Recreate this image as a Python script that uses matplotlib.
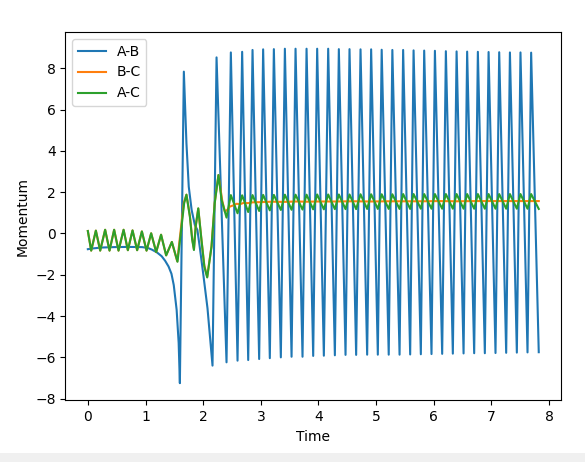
import matplotlib
matplotlib.use("Agg")
import matplotlib.pyplot as plt
from matplotlib.patches import Rectangle

# A-B momentum
ab_time = [0.0, 0.1, 0.24, 0.45, 0.7, 0.94, 1.04, 1.11, 1.2, 1.28, 1.34, 1.40, 1.45, 1.49,
           1.54, 1.575, 1.596, 1.665, 1.71, 1.75, 1.80, 1.856, 1.90, 1.94, 2.0, 2.075, 2.162,
           2.232, 2.405, 2.480, 2.596, 2.676, 2.781, 2.856, 2.971, 3.040, 3.156, 3.226, 3.347,
           3.417, 3.533, 3.602, 3.723, 3.793, 3.908, 3.977, 4.093, 4.168, 4.284, 4.353, 4.469,
           4.538, 4.653, 4.729, 4.844, 4.913, 5.029, 5.096, 5.218, 5.281, 5.406, 5.468, 5.59,
           5.649, 5.775, 5.833, 5.96, 6.019, 6.145, 6.209, 6.33, 6.395, 6.516, 6.578, 6.70,
           6.764, 6.885, 6.95, 7.07, 7.134, 7.255, 7.32, 7.44, 7.503, 7.625, 7.688, 7.82]
ab_momentum = [-0.76, -0.72, -0.68, -0.66, -0.65, -0.66, -0.70, -0.78, -0.92, -1.1, -1.32, -1.6,
               -1.95, -2.5, -3.7, -5.3, -7.25, 7.84, 4.37, 2.27, 1.14, 0.41, 0.17, -0.64, -1.93,
               -3.62, -6.40,
               8.53, -6.24, 8.77, -6.16, 8.80, -6.13, 8.89, -6.08, 8.92, -6.04, 8.93, -6.00,
               8.95, -5.97, 8.95, -5.97, 8.95, -5.93, 8.95, -5.92, 8.95, -5.90, 8.93, -5.88,
               8.93, -5.88, 8.92, -5.87, 8.92, -5.87, 8.90, -5.87, 8.89, -5.87, 8.89, -5.86,
               8.87, -5.85, 8.86, -5.84, 8.85, -5.83, 8.83, -5.82, 8.82, -5.81, 8.81, -5.80,
               8.80, -5.80, 8.79, -5.79, 8.78, -5.78, 8.77, -5.77, 8.77, -5.76, 8.76, -5.75]

# A-C momentum
ac_time = [0.0, 0.058, 0.139, 0.214, 0.30, 0.376, 0.456, 0.532, 0.62, 0.694, 0.775, 0.855,
           0.937, 1.018, 1.098, 1.185, 1.27, 1.358, 1.457, 1.555, 1.625, 1.67, 1.71, 1.77,
           1.81, 1.84, 1.87, 1.915, 1.97, 2.02, 2.07, 2.145, 2.2, 2.265, 2.32, 2.405,
           2.48, 2.596, 2.676, 2.781, 2.856, 2.971, 3.040, 3.156, 3.226, 3.347, 3.417, 3.533,
           3.602, 3.723, 3.793, 3.908, 3.977, 4.093, 4.168, 4.284, 4.353, 4.469, 4.538, 4.653,
           4.729, 4.844, 4.913, 5.029, 5.096, 5.218, 5.281, 5.406, 5.468, 5.59, 5.649, 5.775,
           5.833, 5.96, 6.019, 6.145, 6.209, 6.33, 6.395, 6.516, 6.578, 6.70, 6.764, 6.885,
           6.95, 7.07, 7.134, 7.255, 7.32, 7.44, 7.503, 7.625, 7.688, 7.82]
ac_momentum = [0.12, -0.83, 0.14, -0.83, 0.18, -0.83, 0.18, -0.83, 0.18, -0.81, 0.15, -0.81,
               0.10, -0.83, 0.01, -0.90, -0.06, -1.06, -0.41, -1.37, 0.33, 1.46, 1.88, 0.81,
               -0.31, -0.80, 0.33, 1.22, -0.31, -1.6, -2.13, -0.64, 1.46, 2.83, 1.62, 0.77,
               1.86, 0.98, 1.85, 1.04, 1.86, 1.09, 1.87, 1.12, 1.87, 1.14, 1.88, 1.15,
               1.88, 1.16, 1.88, 1.17, 1.89, 1.17, 1.89, 1.18, 1.89, 1.18, 1.89, 1.18,
               1.90, 1.19, 1.90, 1.19, 1.90, 1.19, 1.90, 1.19, 1.91, 1.19, 1.91, 1.20,
               1.91, 1.20, 1.91, 1.20, 1.91, 1.20, 1.91, 1.20, 1.91, 1.20, 1.91, 1.20,
               1.91, 1.20, 1.91, 1.20, 1.91, 1.20, 1.91, 1.20, 1.91, 1.19]

# B-C momentum
bc_time = [0.0, 0.058, 0.139, 0.214, 0.30, 0.376, 0.456, 0.532, 0.62, 0.694, 0.775, 0.855,
           0.937, 1.018, 1.098, 1.185, 1.27, 1.358, 1.457, 1.55, 1.62, 1.665, 1.71, 1.77,
           1.81, 1.84, 1.87, 1.915, 1.97, 2.02, 2.07, 2.145, 2.2, 2.265, 2.33, 2.376,
           2.42, 2.46, 2.52, 2.58, 2.64, 2.70, 2.78, 2.86, 3.0, 3.2, 3.4, 3.6, 3.8, 4.0,
           4.3, 4.6, 4.9, 5.2, 5.5, 5.8, 6.1, 6.4, 6.7, 7.0, 7.3, 7.6, 7.82]
bc_momentum = [0.12, -0.83, 0.14, -0.83, 0.18, -0.83, 0.18, -0.83, 0.18, -0.81, 0.15, -0.81,
               0.10, -0.83, 0.01, -0.90, -0.06, -1.06, -0.41, -1.35, 0.40, 1.50, 1.88, 0.85,
               -0.25, -0.76, 0.36, 1.20, -0.28, -1.55, -2.10, -0.60, 1.50, 2.83, 1.60, 1.06,
               1.15, 1.30, 1.36, 1.44, 1.42, 1.48, 1.47, 1.51, 1.52, 1.54, 1.53, 1.55, 1.54, 1.55,
               1.55, 1.56, 1.55, 1.56, 1.56, 1.56, 1.57, 1.56, 1.57, 1.57, 1.57, 1.57, 1.57]

fig = plt.figure(figsize=(5.85, 4.62), dpi=100)
ax = fig.add_axes([65.3 / 585, 1 - 400.3 / 462, 496 / 585, 368.3 / 462])

ax.plot(ab_time, ab_momentum, label="A-B")
ax.plot(bc_time, bc_momentum, label="B-C")
ax.plot(ac_time, ac_momentum, label="A-C")

ax.set_xlim(-0.391, 8.211)
ax.set_ylim(-8.08, 9.76)
ax.set_xlabel("Time")
ax.set_ylabel("Momentum")
ax.legend(loc="upper left")

# grey strip at the bottom of the screenshot
fig.patches.append(Rectangle((0, 0), 1, 9 / 462, transform=fig.transFigure,
                             facecolor="#f0f0f0", edgecolor="none"))

fig.savefig("out.png", dpi=100)
